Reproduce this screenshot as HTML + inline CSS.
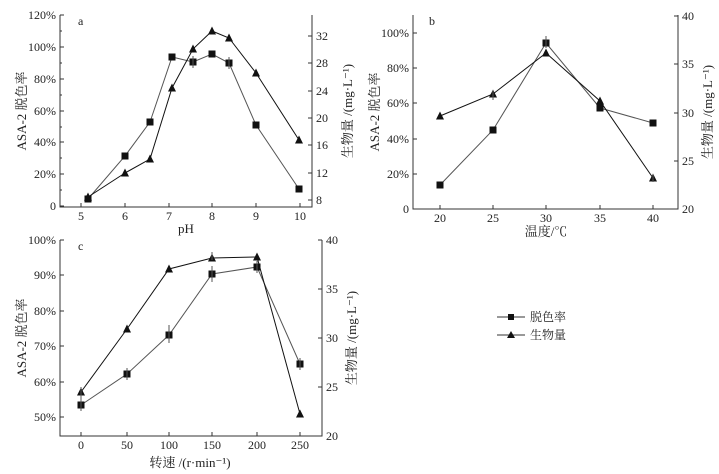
<!DOCTYPE html>
<html><head><meta charset="utf-8"><style>
html,body{margin:0;padding:0;background:#fff;}
svg{display:block;font-family:"Liberation Serif","Noto Serif CJK SC",serif;}
text{font-size:12px;fill:#222;}
.lab{font-size:13px;}
</style></head><body>
<svg width="719" height="474" viewBox="0 0 719 474" xmlns="http://www.w3.org/2000/svg">
<defs>
<marker id="sq" viewBox="0 0 8 8" refX="4" refY="4" markerWidth="7" markerHeight="7" markerUnits="userSpaceOnUse"><rect width="8" height="8" fill="#111"/></marker>
<marker id="tr" viewBox="0 0 8 8" refX="4" refY="4.5" markerWidth="8" markerHeight="8" markerUnits="userSpaceOnUse"><path d="M4 0L8 8H0Z" fill="#111"/></marker>
</defs>
<g stroke="#333" fill="none" stroke-width="1">
<path d="M60 15V207H312V15"/>
<path d="M60 15h4M60 47h4M60 79h4M60 111h4M60 142h4M60 174h4M60 206h4 M60 31h2M60 63h2M60 95h2M60 127h2M60 158h2M60 190h2"/>
<path d="M312 36h-4M312 63h-4M312 91h-4M312 118h-4M312 145h-4M312 173h-4M312 200h-4"/>
<path d="M81 207v-4M125 207v-4M169 207v-4M212 207v-4M256 207v-4M300 207v-4"/>
<path d="M413 15V209H678V15"/>
<path d="M413 33h4M413 68h4M413 103h4M413 139h4M413 174h4M413 209h4"/>
<path d="M678 16h-4M678 64h-4M678 113h-4M678 161h-4M678 209h-4"/>
<path d="M440 209v-4M493 209v-4M546 209v-4M600 209v-4M653 209v-4"/>
<path d="M60 240V436H322V240"/>
<path d="M60 240h4M60 275h4M60 311h4M60 346h4M60 382h4M60 417h4"/>
<path d="M322 240h-4M322 289h-4M322 338h-4M322 387h-4M322 436h-4"/>
<path d="M81 436v-4M127 436v-4M169 436v-4M212 436v-4M257 436v-4M300 436v-4"/>
</g>
<g stroke-width="1" fill="none">
<polyline stroke="#555" marker-start="url(#sq)" marker-mid="url(#sq)" marker-end="url(#sq)" points="88,199 125,156 150,122 172,57 193,62 212,54 229,63 256,125 299,189"/>
<polyline stroke="#111" marker-start="url(#tr)" marker-mid="url(#tr)" marker-end="url(#tr)" points="88,197 125,173 150,159 172,88 193,49 212,31 229,38 256,73 299,140"/>
<polyline stroke="#555" marker-start="url(#sq)" marker-mid="url(#sq)" marker-end="url(#sq)" points="440,185 493,130 546,43 600,108 653,123"/>
<polyline stroke="#111" marker-start="url(#tr)" marker-mid="url(#tr)" marker-end="url(#tr)" points="440,116 493,94 546,53 600,101 653,178"/>
<polyline stroke="#555" marker-start="url(#sq)" marker-mid="url(#sq)" marker-end="url(#sq)" points="81,405 127,374 169,335 212,274 257,267 300,364"/>
<polyline stroke="#111" marker-start="url(#tr)" marker-mid="url(#tr)" marker-end="url(#tr)" points="81,392 127,329 169,269 212,258 257,257 300,414"/>
<path stroke="#555" d="M193 56v12M229 57v12M546 36v12M493 90v10M127 368v12M169 325v18M212 266v16M257 261v12M300 358v12M81 397v14M81 387v10M212 252v8M653 174v8"/>
<path stroke="#333" d="M497 317h28M497 335h28"/>
<rect x="508" y="314" width="6" height="6" fill="#111"/>
<path d="M511 331l4 7h-8z" fill="#111"/>
</g>
<g text-anchor="end">
<text x="56" y="19">120%</text><text x="56" y="51">100%</text><text x="56" y="83">80%</text><text x="56" y="115">60%</text><text x="56" y="146">40%</text><text x="56" y="178">20%</text><text x="56" y="210">0</text>
<text x="409" y="37">100%</text><text x="409" y="72">80%</text><text x="409" y="107">60%</text><text x="409" y="143">40%</text><text x="409" y="178">20%</text><text x="409" y="213">0</text>
<text x="56" y="244">100%</text><text x="56" y="279">90%</text><text x="56" y="315">80%</text><text x="56" y="350">70%</text><text x="56" y="386">60%</text><text x="56" y="421">50%</text>
</g>
<g text-anchor="start">
<text x="316" y="40">32</text><text x="316" y="67">28</text><text x="316" y="95">24</text><text x="316" y="122">20</text><text x="316" y="149">16</text><text x="316" y="177">12</text><text x="316" y="204">8</text>
<text x="682" y="20">40</text><text x="682" y="68">35</text><text x="682" y="117">30</text><text x="682" y="165">25</text><text x="682" y="213">20</text>
<text x="326" y="244">40</text><text x="326" y="293">35</text><text x="326" y="342">30</text><text x="326" y="391">25</text><text x="326" y="440">20</text>
<text x="78" y="25">a</text><text x="429" y="25">b</text><text x="78" y="250">c</text>
<text x="530" y="321">脱色率</text><text x="530" y="339">生物量</text>
</g>
<g text-anchor="middle">
<text x="81" y="220">5</text><text x="125" y="220">6</text><text x="169" y="220">7</text><text x="212" y="220">8</text><text x="256" y="220">9</text><text x="300" y="220">10</text>
<text x="186" y="233" class="lab">pH</text>
<text x="440" y="222">20</text><text x="493" y="222">25</text><text x="546" y="222">30</text><text x="600" y="222">35</text><text x="653" y="222">40</text>
<text x="546" y="236" class="lab">温度/℃</text>
<text x="81" y="449">0</text><text x="127" y="449">50</text><text x="169" y="449">100</text><text x="212" y="449">150</text><text x="257" y="449">200</text><text x="300" y="449">250</text>
<text x="190" y="467" class="lab">转速 /(r·min⁻¹)</text>
<text class="lab" transform="translate(26,111) rotate(-90)">ASA-2 脱色率</text>
<text class="lab" transform="translate(379,112) rotate(-90)">ASA-2 脱色率</text>
<text class="lab" transform="translate(26,338) rotate(-90)">ASA-2 脱色率</text>
<text class="lab" transform="translate(352,111) rotate(-90)">生物量 /(mg·L⁻¹)</text>
<text class="lab" transform="translate(712,112) rotate(-90)">生物量 /(mg·L⁻¹)</text>
<text class="lab" transform="translate(356,338) rotate(-90)">生物量 /(mg·L⁻¹)</text>
</g>
</svg>
</body></html>
